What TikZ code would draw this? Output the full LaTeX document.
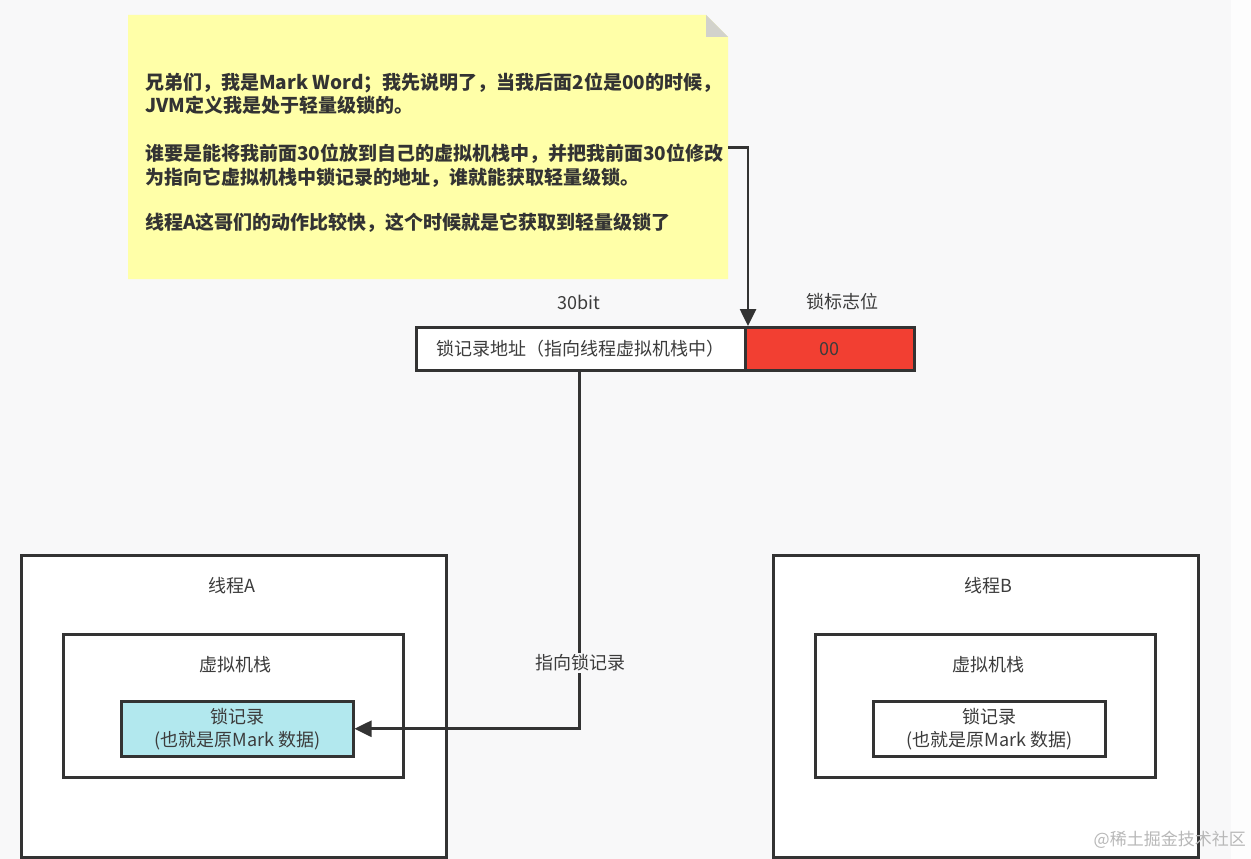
\documentclass[tikz,border=0pt]{standalone}
\usepackage{fontspec}
\setmainfont{Noto Sans CJK SC}
\usetikzlibrary{arrows.meta}
\definecolor{bg}{HTML}{F8F8F9}
\definecolor{bgr}{HTML}{FDFDFD}
\definecolor{ln}{HTML}{333333}
\definecolor{notey}{HTML}{FFFFA8}
\definecolor{fold}{HTML}{D2D2CC}
\definecolor{redc}{HTML}{F23F32}
\definecolor{cyanc}{HTML}{B2E8EE}
\definecolor{txt}{HTML}{3C3C3C}
\definecolor{wm}{HTML}{B8B8B8}
\begin{document}
\begin{tikzpicture}[x=1pt,y=-1pt,
  box/.style={draw=ln, line width=2.5pt, inner sep=0pt, anchor=north west, text=txt,
    font=\fontsize{18}{23}\selectfont, align=center},
  lbl/.style={text=txt, font=\fontsize{18}{22}\selectfont, inner sep=1pt},
  notetxt/.style={text=ln, font=\bfseries\fontsize{19}{24}\selectfont, inner sep=0pt, anchor=base west},
  arr/.style={draw=ln, line width=2.6pt, -{Triangle[length=17pt,width=16pt]}},
]
% background
\fill[bg] (0,0) rectangle (1231,859);
\fill[bgr] (1231,0) rectangle (1251,859);
\useasboundingbox (0,0) rectangle (1251,859);

% note with folded corner
\fill[notey] (128,15) -- (706,15) -- (728,37) -- (728,279) -- (128,279) -- cycle;
\fill[fold] (706,15) -- (728,37) -- (706,37) -- cycle;
\node[inner sep=0pt, minimum width=600pt, minimum height=264pt, anchor=north west] (note) at (128,15) {};
\node[notetxt] (n1) at (145,89) {兄弟们，我是Mark Word；我先说明了，当我后面2位是00的时候，};
\node[notetxt] (n2) at (145,113) {JVM定义我是处于轻量级锁的。};
\node[notetxt] (n3) at (145,160) {谁要是能将我前面30位放到自己的虚拟机栈中，并把我前面30位修改};
\node[notetxt] (n4) at (145,184) {为指向它虚拟机栈中锁记录的地址，谁就能获取轻量级锁。};
\node[notetxt] (n5) at (145,229) {线程A这哥们的动作比较快，这个时候就是它获取到轻量级锁了};

% mark word bar
\node[lbl] (bits) at (579,302) {30bit};
\node[lbl] (flagt) at (842,302) {锁标志位};
\node[box, fill=white, minimum width=329pt, minimum height=43pt] (addr) at (415,326) {锁记录地址（指向线程虚拟机栈中）};
\node[box, fill=redc, minimum width=169pt, minimum height=43pt] (flag) at (744,326) {00};

% thread A
\node[box, fill=white, minimum width=425pt, minimum height=302pt] (thA) at (20,554) {};
\node[lbl] (thAt) at (232,586) {线程A};
\node[box, fill=white, minimum width=340pt, minimum height=143pt] (stA) at (62,633) {};
\node[lbl] (stAt) at (235,665) {虚拟机栈};
\node[box, fill=cyanc, minimum width=232pt, minimum height=55pt] (lrA) at (120,700) {锁记录\\(也就是原Mark 数据)};

% thread B
\node[box, fill=white, minimum width=425pt, minimum height=302pt] (thB) at (772,554) {};
\node[lbl] (thBt) at (988,586) {线程B};
\node[box, fill=white, minimum width=340pt, minimum height=143pt] (stB) at (814,633) {};
\node[lbl] (stBt) at (988,665) {虚拟机栈};
\node[box, fill=white, minimum width=232pt, minimum height=55pt] (lrB) at (872,700) {锁记录\\(也就是原Mark 数据)};

% connectors
\draw[arr] (note.east) -| ([xshift=4pt]flag.north west);
\draw[arr] ([xshift=-1.5pt]addr.south) |- (lrA.east);
\node[lbl, fill=bg, inner sep=2pt] (ptr) at (580,663) {指向锁记录};

% watermark
\node[text=wm, font=\fontsize{17}{20}\selectfont, anchor=east, inner sep=0pt] (wmk) at (1246,840) {@稀土掘金技术社区};
\end{tikzpicture}
\end{document}
